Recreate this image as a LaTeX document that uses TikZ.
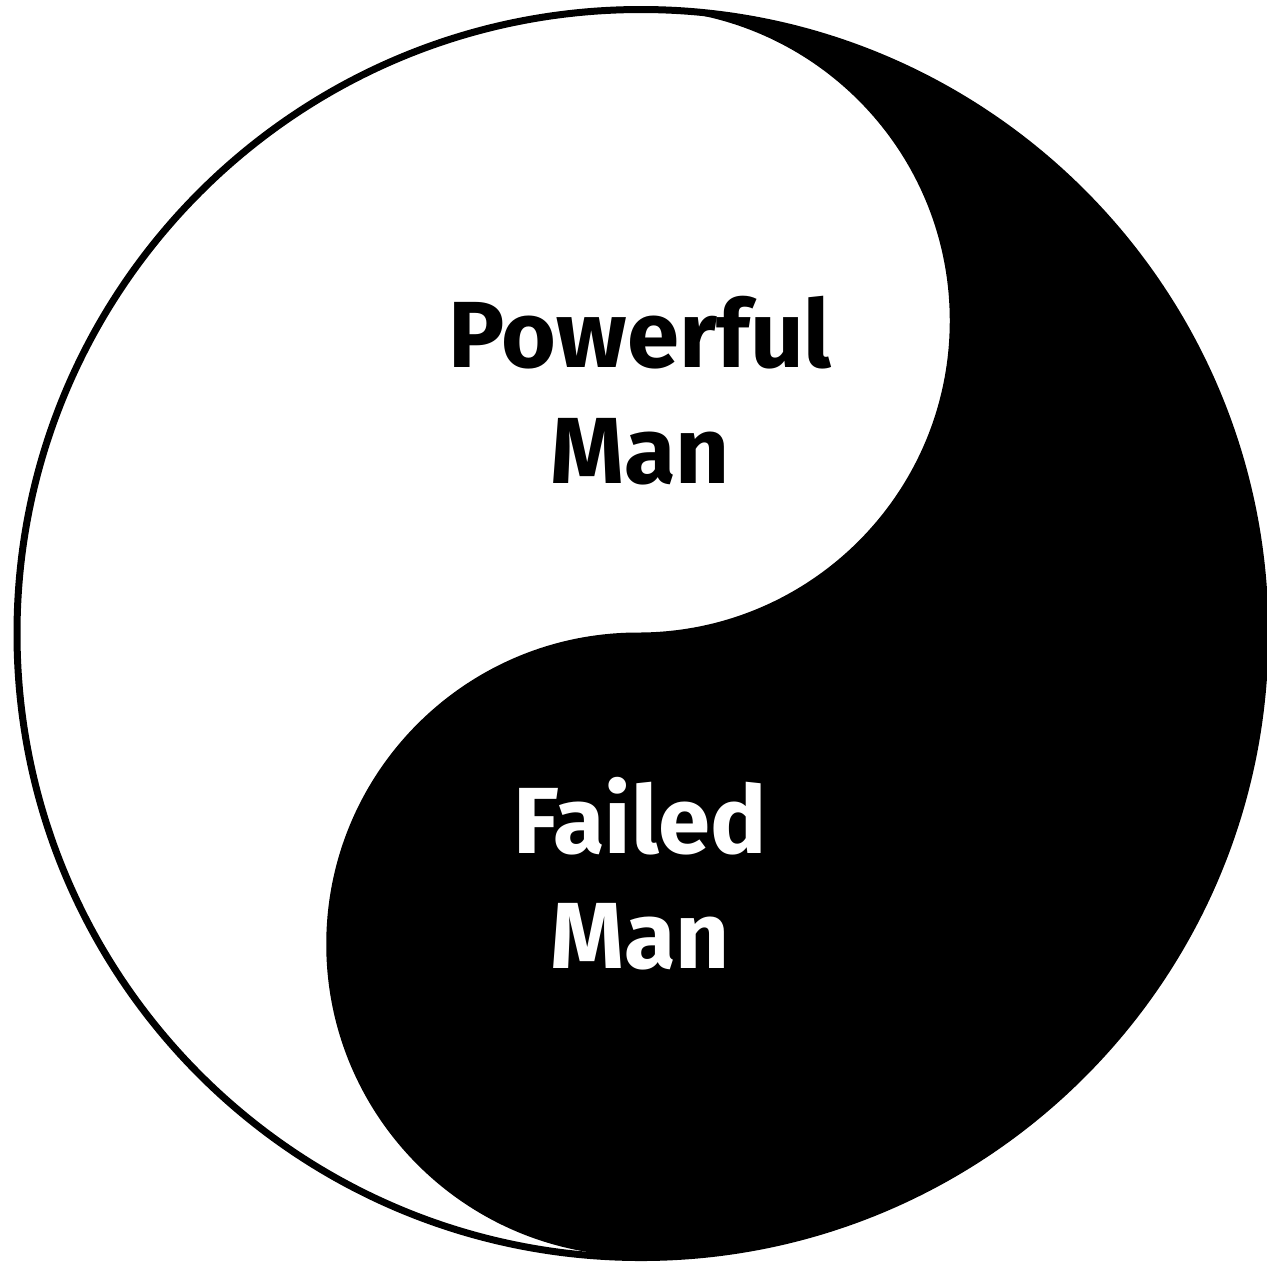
\documentclass[tikz,border=0pt]{standalone}
\usepackage{fontspec}
\setmainfont{Fira Sans}
\begin{document}
\begin{tikzpicture}[x=0.5pt,y=-0.5pt,
  lbl/.style={font=\fontsize{47}{56}\selectfont\bfseries, inner sep=0pt, anchor=base},
  rim/.style={draw=black, line width=3.5pt}]
\useasboundingbox (0,0) rectangle (1267,1266);
\fill[white] (0,0) rectangle (1267,1266);
% outer rim
\draw[rim] (641,633.5) circle[radius=624];
% black half
\fill[black] (638,9)
  arc[start angle=-90,end angle=90,x radius=627,y radius=623.5]
  arc[start angle=90,end angle=270,radius=311.75]
  arc[start angle=90,end angle=-90,radius=311.75];
% labels
\node[lbl] (p1) at (640,367) {Powerful};
\node[lbl] (p2) at (640,483) {Man};
\node[lbl,text=white] (f1) at (640,853) {Failed};
\node[lbl,text=white] (f2) at (640,968) {Man};
\end{tikzpicture}
\end{document}
